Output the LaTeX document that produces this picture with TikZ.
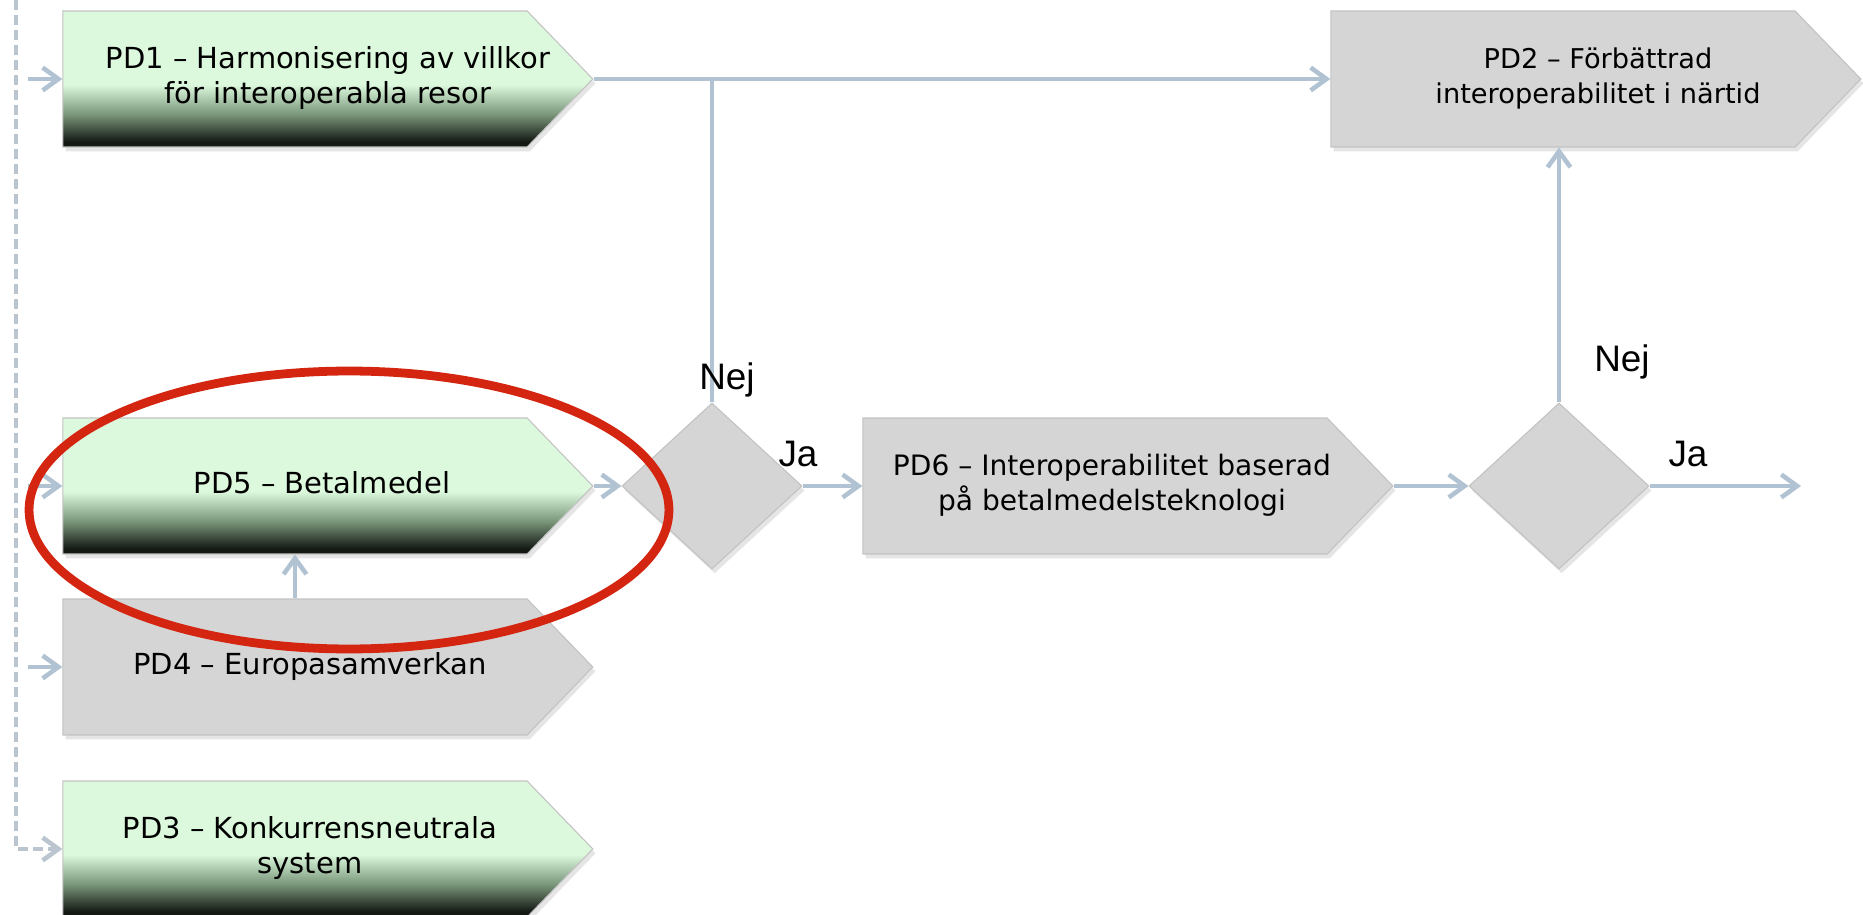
\documentclass[tikz,border=0pt]{standalone}
\usepackage{fontspec}
\setmainfont{DejaVu Sans}
\newfontfamily\labelfont{Liberation Sans}
\usepackage{tikz}
\usetikzlibrary{shapes.symbols, shapes.geometric, arrows.meta, shadows}
\definecolor{pdlight}{HTML}{DDF9DD}
\definecolor{pdmid}{HTML}{7A967A}
\definecolor{pddark}{HTML}{141914}
\definecolor{pdgray}{HTML}{D5D5D5}
\definecolor{pdedge}{HTML}{C2C2C2}
\definecolor{flowblue}{HTML}{B1C3D3}
\definecolor{trunkgray}{HTML}{BAC5D0}
\definecolor{ringred}{HTML}{D42511}
\pgfdeclareverticalshading{pdgreen}{100bp}{color(0bp)=(pddark); color(27bp)=(pddark); color(37bp)=(pdmid); color(48bp)=(pdlight); color(100bp)=(pdlight)}
\newcommand\pdtext[2][1cm]{\hspace*{#1}\makebox[0pt]{\begin{tabular}{@{}c@{}}#2\end{tabular}}}

\begin{document}
\begin{tikzpicture}[x=0.02cm, y=-0.02cm,
    pdbox/.style={signal, signal to=east, signal pointer angle=92, minimum width=10.6cm, minimum height=2.72cm, inner sep=0pt, font=\fontsize{16.5}{20}\selectfont, draw=pdedge, line width=0.6pt, drop shadow={shadow xshift=1.5pt, shadow yshift=-2.5pt, opacity=0.2}},
    greenbox/.style={pdbox, shading=pdgreen},
    graybox/.style={pdbox, fill=pdgray},
    choice/.style={diamond, minimum width=3.6cm, minimum height=3.32cm, inner sep=0pt, fill=pdgray, draw=pdedge, line width=0.6pt, drop shadow={shadow xshift=1.5pt, shadow yshift=-2.5pt, opacity=0.2}},
    flow/.style={draw=flowblue, line width=2.6pt, -{Straight Barb[length=9pt, width=13pt, line width=2.6pt]}},
    joint/.style={draw=flowblue, line width=2.6pt},
    trunk/.style={draw=trunkgray, line width=2.4pt, dash pattern=on 5.7pt off 2.8pt, -{Straight Barb[length=9pt, width=13pt, line width=2.6pt]}},
    feed/.style={trunk, draw=flowblue, dash pattern=on 0pt off 7pt on 30pt off 0pt},
    lbl/.style={font=\labelfont\fontsize{21}{25}\selectfont},
    ring/.style={draw=ringred, line width=5pt}]
    \useasboundingbox (0,0) rectangle (1863,915);
    \fill[white] (0,0) rectangle (1863,915);

    \node[greenbox] (pd1) at (295,79) {\pdtext[1.32cm]{PD1 -- Harmonisering av villkor\\för interoperabla resor}};
    \node[greenbox] (pd5) at (295,486) {\pdtext[1.08cm]{PD5 -- Betalmedel}};
    \node[graybox] (pd4) at (295,667) {\pdtext[0.6cm]{PD4 -- Europasamverkan}};
    \node[greenbox] (pd3) at (295,849) {\pdtext[0.6cm]{PD3 -- Konkurrensneutrala\\system}};
    \node[graybox, font=\fontsize{15.5}{20}\selectfont] (pd2) at (1563,79) {\pdtext[1.4cm]{PD2 -- Förbättrad\\interoperabilitet i närtid}};
    \node[graybox, font=\fontsize{16}{20}\selectfont] (pd6) at (1095,486) {\pdtext[0.68cm]{PD6 -- Interoperabilitet baserad\\på betalmedelsteknologi}};
    \node[choice] (d1) at (712,486) {};
    \node[choice] (d2) at (1559,486) {};

    \coordinate (top) at (16,0);
    \coordinate (out) at (1801,486);
    \draw[trunk] (top) |- (pd3.west);
    \draw[feed] (top |- pd1.west) -- (pd1.west);
    \draw[feed] (top |- pd5.west) -- (pd5.west);
    \draw[feed] (top |- pd4.west) -- (pd4.west);

    \draw[flow] (pd1.east) -- (pd2.west);
    \draw[joint] (d1.north) -- (d1.north |- pd1.east);
    \draw[flow] (pd5.east) -- (d1.west);
    \draw[flow] (pd4.north) -- (pd5.south);
    \draw[flow] (d1.east) -- (pd6.west);
    \draw[flow] (pd6.east) -- (d2.west);
    \draw[flow] (d2.north) -- (d2.north |- pd2.south);
    \draw[flow] (d2.east) -- (out);

    \node[lbl] (nej1) at (727,380) {Nej};
    \node[lbl] (ja1) at (798,454) {Ja};
    \node[lbl] (nej2) at (1622,362) {Nej};
    \node[lbl] (ja2) at (1688,454) {Ja};

    \draw[ring] (349,510) ellipse [x radius=6.4cm, y radius=2.78cm];
\end{tikzpicture}
\end{document}
